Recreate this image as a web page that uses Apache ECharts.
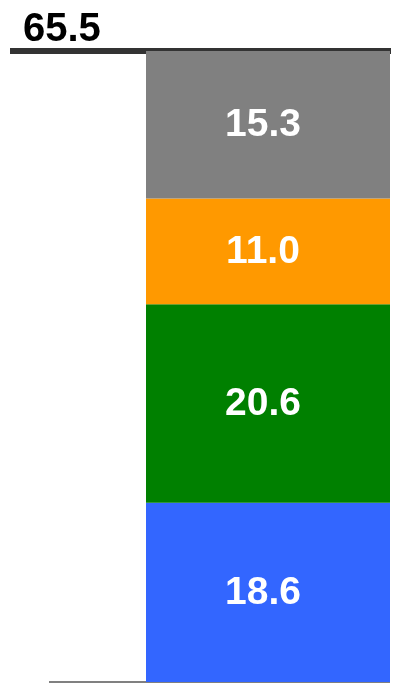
<!DOCTYPE html>
<html>
<head>
<meta charset="utf-8">
<style>
  html, body { margin: 0; padding: 0; background: #ffffff; }
  #chart { width: 394px; height: 684px; }
</style>
<script src="https://cdn.jsdelivr.net/npm/echarts@6/dist/echarts.min.js"></script>
</head>
<body>
<div id="chart"></div>
<script>
// Stack segments, bottom to top
const categories = ['Total'];
const segmentNames = ['A', 'B', 'C', 'D'];
const segmentValues = [18.6, 20.6, 11.0, 15.3];
const totalValue = 65.5;

const segmentColors = ['#3366FF', '#008000', '#FF9900', '#808080'];
const FONT = '"Liberation Sans", Arial, sans-serif';

const chart = echarts.init(document.getElementById('chart'), null, { renderer: 'canvas' });

const series = segmentNames.map((name, i) => ({
  name: name,
  type: 'bar',
  stack: 'total',
  xAxisIndex: 2,
  yAxisIndex: 2,
  barWidth: '100%',
  data: [segmentValues[i]],
  itemStyle: { color: segmentColors[i] },
  label: {
    show: true,
    position: 'inside',
    offset: [-5, 1],
    color: '#ffffff',
    fontFamily: FONT,
    fontWeight: 'bold',
    fontSize: 39,
    formatter: (p) => p.value.toFixed(1)
  }
}));

const hiddenY = (idx) => ({
  type: 'value', gridIndex: idx, min: 0, max: totalValue, show: false
});

chart.setOption({
  animation: false,
  backgroundColor: '#ffffff',
  title: {
    text: totalValue.toFixed(1),
    left: 23,
    top: 10,
    padding: 0,
    textStyle: { fontFamily: FONT, fontWeight: 'bold', fontSize: 40, color: '#000000' }
  },
  grid: [
    { left: 10, right: 3, top: 51, bottom: 2 },
    { left: 49, right: 4, top: 51, bottom: 2 },
    { left: 146, right: 4, top: 51, bottom: 2 }
  ],
  xAxis: [
    {
      // total line across the top
      type: 'category', gridIndex: 0, position: 'top', data: categories,
      axisLine: { show: true, onZero: false, lineStyle: { color: '#333333', width: 6, cap: 'butt' } },
      axisTick: { show: false }, axisLabel: { show: false }, splitLine: { show: false }
    },
    {
      // baseline
      type: 'category', gridIndex: 1, position: 'bottom', data: categories,
      axisLine: { show: true, onZero: false, lineStyle: { color: '#808080', width: 2, cap: 'butt' } },
      axisTick: { show: false }, axisLabel: { show: false }, splitLine: { show: false }
    },
    {
      type: 'category', gridIndex: 2, data: categories, show: false
    }
  ],
  yAxis: [hiddenY(0), hiddenY(1), hiddenY(2)],
  series: series
});
</script>
</body>
</html>
